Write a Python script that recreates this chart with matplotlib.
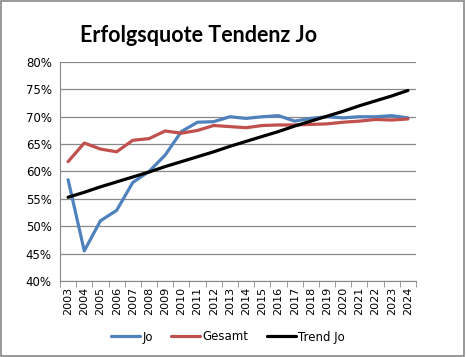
import numpy as np
import matplotlib.pyplot as plt
from matplotlib.ticker import FuncFormatter

years = [str(y) for y in range(2003, 2025)]
jo = [58.5, 45.5, 51.0, 52.9, 58.0, 60.0, 63.0, 67.3, 69.0, 69.1, 70.0, 69.7,
      70.0, 70.2, 69.2, 69.7, 70.0, 69.8, 70.0, 70.0, 70.2, 69.8]
gesamt = [61.8, 65.2, 64.1, 63.6, 65.7, 66.0, 67.4, 67.0, 67.5, 68.4, 68.2, 68.0,
          68.4, 68.5, 68.5, 68.6, 68.7, 69.0, 69.2, 69.5, 69.4, 69.6]
trend = [55.3, 56.2, 57.2, 58.1, 59.0, 59.9, 60.9, 61.8, 62.7, 63.6, 64.6, 65.5,
         66.4, 67.3, 68.3, 69.2, 70.1, 71.0, 72.0, 72.9, 73.8, 74.8]

fig = plt.figure(figsize=(4.66, 3.57), dpi=100)
ax = fig.add_axes([60/466, 1-281/357, (416-60)/466, (281-62)/357])

ind = np.arange(len(years))
ax.plot(ind, jo, color='#4F81BD', lw=2.3, label='Jo', solid_capstyle='round')
ax.plot(ind, gesamt, color='#C0504D', lw=2.3, label='Gesamt', solid_capstyle='round')
ax.plot(ind, trend, color='black', lw=2.3, label='Trend Jo', solid_capstyle='round')

ax.set_xlim(-0.5, len(years) - 0.5)
ax.set_ylim(40, 80)
ax.set_yticks(range(40, 81, 5))
ax.yaxis.set_major_formatter(FuncFormatter(lambda v, p: '%d%%' % v))
ax.set_xticks(ind)
ax.set_xticklabels(years, rotation=90, fontsize=8)
ax.set_xticks(np.arange(-0.5, len(years), 1), minor=True)
ax.tick_params(axis='x', which='major', length=0, pad=4)
ax.tick_params(axis='x', which='minor', length=4, color='#888888')
ax.tick_params(axis='y', length=0, labelsize=8.5, pad=6)
ax.grid(axis='y', color='#888888', lw=0.9)
ax.set_axisbelow(True)
for s in ['top', 'right']:
    ax.spines[s].set_visible(False)
ax.spines['left'].set_color('#888888')
ax.spines['bottom'].set_color('#888888')

fig.text(80/466, 1-36/357, 'Erfolgsquote Tendenz Jo', fontsize=15.5, fontweight='bold',
         va='center', family='Lato')
fig.legend(loc='center', bbox_to_anchor=(228/466, 1-337/357), ncol=3, frameon=False,
           fontsize=8.5, handlelength=2.5, handletextpad=0.2, columnspacing=1.5)

fig.patches.append(plt.Rectangle((0.002, 0.003), 0.994, 0.994, transform=fig.transFigure,
                                 fill=False, edgecolor='#888888', lw=1.2))
fig.savefig('out.png', dpi=100)
